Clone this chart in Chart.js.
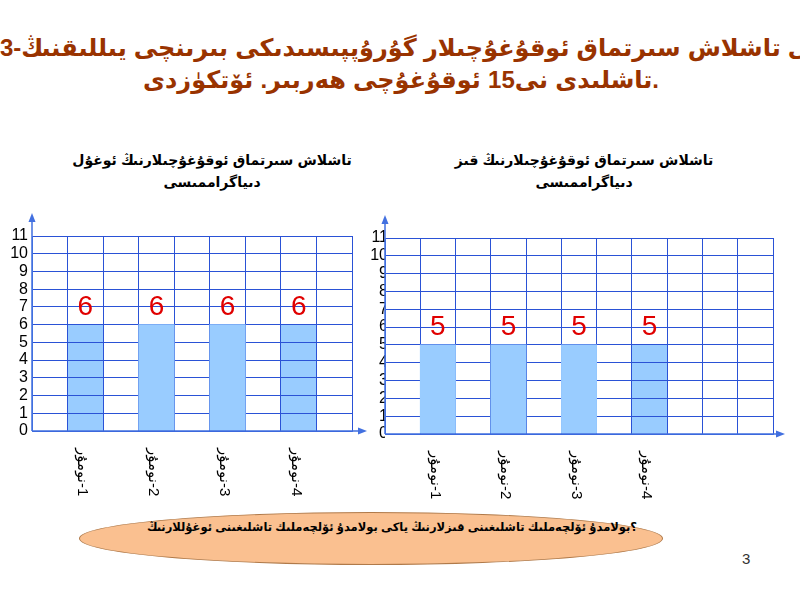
<!DOCTYPE html>
<html>
<head>
<meta charset="utf-8">
<script src="https://cdn.jsdelivr.net/npm/chart.js@4"></script>
<style>
  body { margin: 0; width: 800px; height: 600px; background: #fff; overflow: hidden; position: relative;
         font-family: "Liberation Sans", "DejaVu Sans", sans-serif; }
  /* words run left to right, each word shaped on its own */
  .line { position: absolute; display: flex; gap: 0.3em; white-space: nowrap; direction: ltr; }
  .mid { transform: translateX(-50%); }
  .line > span { direction: ltr; }
  .q { display: inline-flex; direction: ltr; }
  .main { color: #993300; font-weight: bold; font-size: 24px; line-height: 32px; }
  .sub { color: #000; font-weight: bold; font-size: 14px; line-height: 22px; }
  canvas { position: absolute; }
  #oval { position: absolute; left: 79px; top: 512px; width: 582px; height: 51px; border-radius: 50%;
          background: #fac090; border: 1px solid #b07a4a; }
  .ask { color: #000; font-weight: bold; font-size: 11.5px; line-height: 18px; gap: 0.28em; }
  #page { position: absolute; left: 742px; top: 550px; font-size: 15px; color: #333; }
</style>
</head>
<body>
<div class="line main" style="left:0; top:32px"><span>3-يىللىقنىڭ</span><span>بىرىنچى</span><span>گۇرۇپپىسىدىكى</span><span>ئوقۇغۇچىلار</span><span>سىرتماق</span><span>تاشلاش</span><span>مۇسابىقىسى</span></div>
<div class="line main mid" style="left:401px; top:64px"><span>ئۆتكۈزدى</span><span>.ھەربىر</span><span>ئوقۇغۇچى</span><span>15نى</span><span>تاشلىدى.</span></div>

<div class="line sub mid" style="left:212px; top:149px"><span>ئوغۇل</span><span>ئوقۇغۇچىلارنىڭ</span><span>سىرتماق</span><span>تاشلاش</span></div>
<div class="line sub mid" style="left:212px; top:171px"><span>دىياگراممىسى</span></div>
<div class="line sub mid" style="left:584px; top:149px"><span>قىز</span><span>ئوقۇغۇچىلارنىڭ</span><span>سىرتماق</span><span>تاشلاش</span></div>
<div class="line sub mid" style="left:584px; top:171px"><span>دىياگراممىسى</span></div>

<canvas id="boys" width="400" height="310" style="left:0; top:200px"></canvas>
<canvas id="girls" width="440" height="310" style="left:360px; top:200px"></canvas>

<div id="oval"></div>
<div class="line ask mid" style="left:392px; top:518px"><span>ئوغۇللارنىڭ</span><span>تاشلىغىنى</span><span>ئۆلچەملىك</span><span>بولامدۇ</span><span>ياكى</span><span>قىزلارنىڭ</span><span>تاشلىغىنى</span><span>ئۆلچەملىك</span><span class="q"><span>بولامدۇ</span><span>؟</span></span></div>
<div id="page">3</div>

<script>
// data
const yMax = 11;
const boyLabels = ['', '1-نومۇر', '', '2-نومۇر', '', '3-نومۇر', '', '4-نومۇر', ''];
const boyValues = [null, 6, null, 6, null, 6, null, 6, null];
const girlLabels = ['', '1-نومۇر', '', '2-نومۇر', '', '3-نومۇر', '', '4-نومۇر', '', '', ''];
const girlValues = [null, 5, null, 5, null, 5, null, 5, null, null, null];

const gridBlue = '#2a52d6';
const axisBlue = '#4270e0';
const barBlue = '#99ccff';
const valueRed = '#e00000';

const slidePlugin = {
  id: 'slide',
  afterDraw(chart, args, opts) {
    const { ctx, chartArea: a, scales: { x, y } } = chart;
    const meta = chart.getDatasetMeta(0);
    const values = chart.data.datasets[0].data;

    // some bars hide the grid behind them
    opts.coverGrid.forEach(i => meta.data[i].draw(ctx));

    ctx.save();
    // axes with arrows
    ctx.strokeStyle = axisBlue;
    ctx.fillStyle = axisBlue;
    ctx.lineWidth = 1.5;
    ctx.beginPath();
    ctx.moveTo(a.left, a.bottom);
    ctx.lineTo(a.left, a.top - 16);
    ctx.moveTo(a.left, a.bottom);
    ctx.lineTo(a.right + opts.xArrow - 6, a.bottom);
    ctx.stroke();
    ctx.beginPath();
    ctx.moveTo(a.left, a.top - 23);
    ctx.lineTo(a.left - 3.5, a.top - 14);
    ctx.lineTo(a.left + 3.5, a.top - 14);
    ctx.fill();
    ctx.beginPath();
    ctx.moveTo(a.right + opts.xArrow, a.bottom);
    ctx.lineTo(a.right + opts.xArrow - 9, a.bottom - 3.5);
    ctx.lineTo(a.right + opts.xArrow - 9, a.bottom + 3.5);
    ctx.fill();

    // red values one step above each bar
    ctx.fillStyle = valueRed;
    ctx.font = '28px "Liberation Sans", Arial';
    ctx.textAlign = 'center';
    ctx.textBaseline = 'middle';
    meta.data.forEach((el, i) => {
      if (values[i] == null) return;
      ctx.fillText(String(values[i]), el.x, y.getPixelForValue(values[i] + 1));
    });

    // category names turned a quarter clockwise
    ctx.fillStyle = '#000';
    ctx.font = '15px "Liberation Sans", "DejaVu Sans"';
    ctx.direction = 'rtl';
    ctx.textAlign = 'left';
    chart.data.labels.forEach((lab, i) => {
      if (!lab) return;
      ctx.save();
      ctx.translate(x.getPixelForValue(i) - 3, a.bottom + 17);
      ctx.rotate(Math.PI / 2);
      ctx.fillText(lab, 0, 0);
      ctx.restore();
    });
    ctx.restore();
  }
};

function makeChart(id, labels, values, o) {
  return new Chart(document.getElementById(id), {
    type: 'bar',
    data: {
      labels: labels,
      datasets: [{ data: values, backgroundColor: barBlue, borderWidth: 0, barPercentage: 1, categoryPercentage: 1 }]
    },
    options: {
      responsive: false,
      animation: false,
      layout: { padding: o.padding },
      plugins: {
        legend: { display: false },
        tooltip: { enabled: false },
        slide: { coverGrid: o.coverGrid, xArrow: o.xArrow }
      },
      scales: {
        x: {
          offset: true,
          grid: { z: 1, offset: true, color: gridBlue, drawTicks: false },
          border: { z: 1, color: axisBlue },
          ticks: { display: false },
          afterFit: s => { s.height = o.xHeight; }
        },
        y: {
          min: 0,
          max: yMax,
          ticks: { stepSize: 1, autoSkip: false, padding: o.tickPad, color: '#000', font: { size: 16, family: '"Liberation Sans", Arial' } },
          grid: { z: 1, color: gridBlue, drawTicks: false },
          border: { z: 1, color: axisBlue },
          afterFit: s => { s.width = o.yWidth; }
        }
      }
    },
    plugins: [slidePlugin]
  });
}

makeChart('boys', boyLabels, boyValues, {
  padding: { top: 36, right: 48, left: 0, bottom: 0 },
  xHeight: 79, yWidth: 32, tickPad: 4, coverGrid: [3, 5], xArrow: 15
});
makeChart('girls', girlLabels, girlValues, {
  padding: { top: 38, right: 27, left: 0, bottom: 0 },
  xHeight: 76, yWidth: 25, tickPad: -3, coverGrid: [1, 3, 5], xArrow: 12
});
</script>
</body>
</html>
